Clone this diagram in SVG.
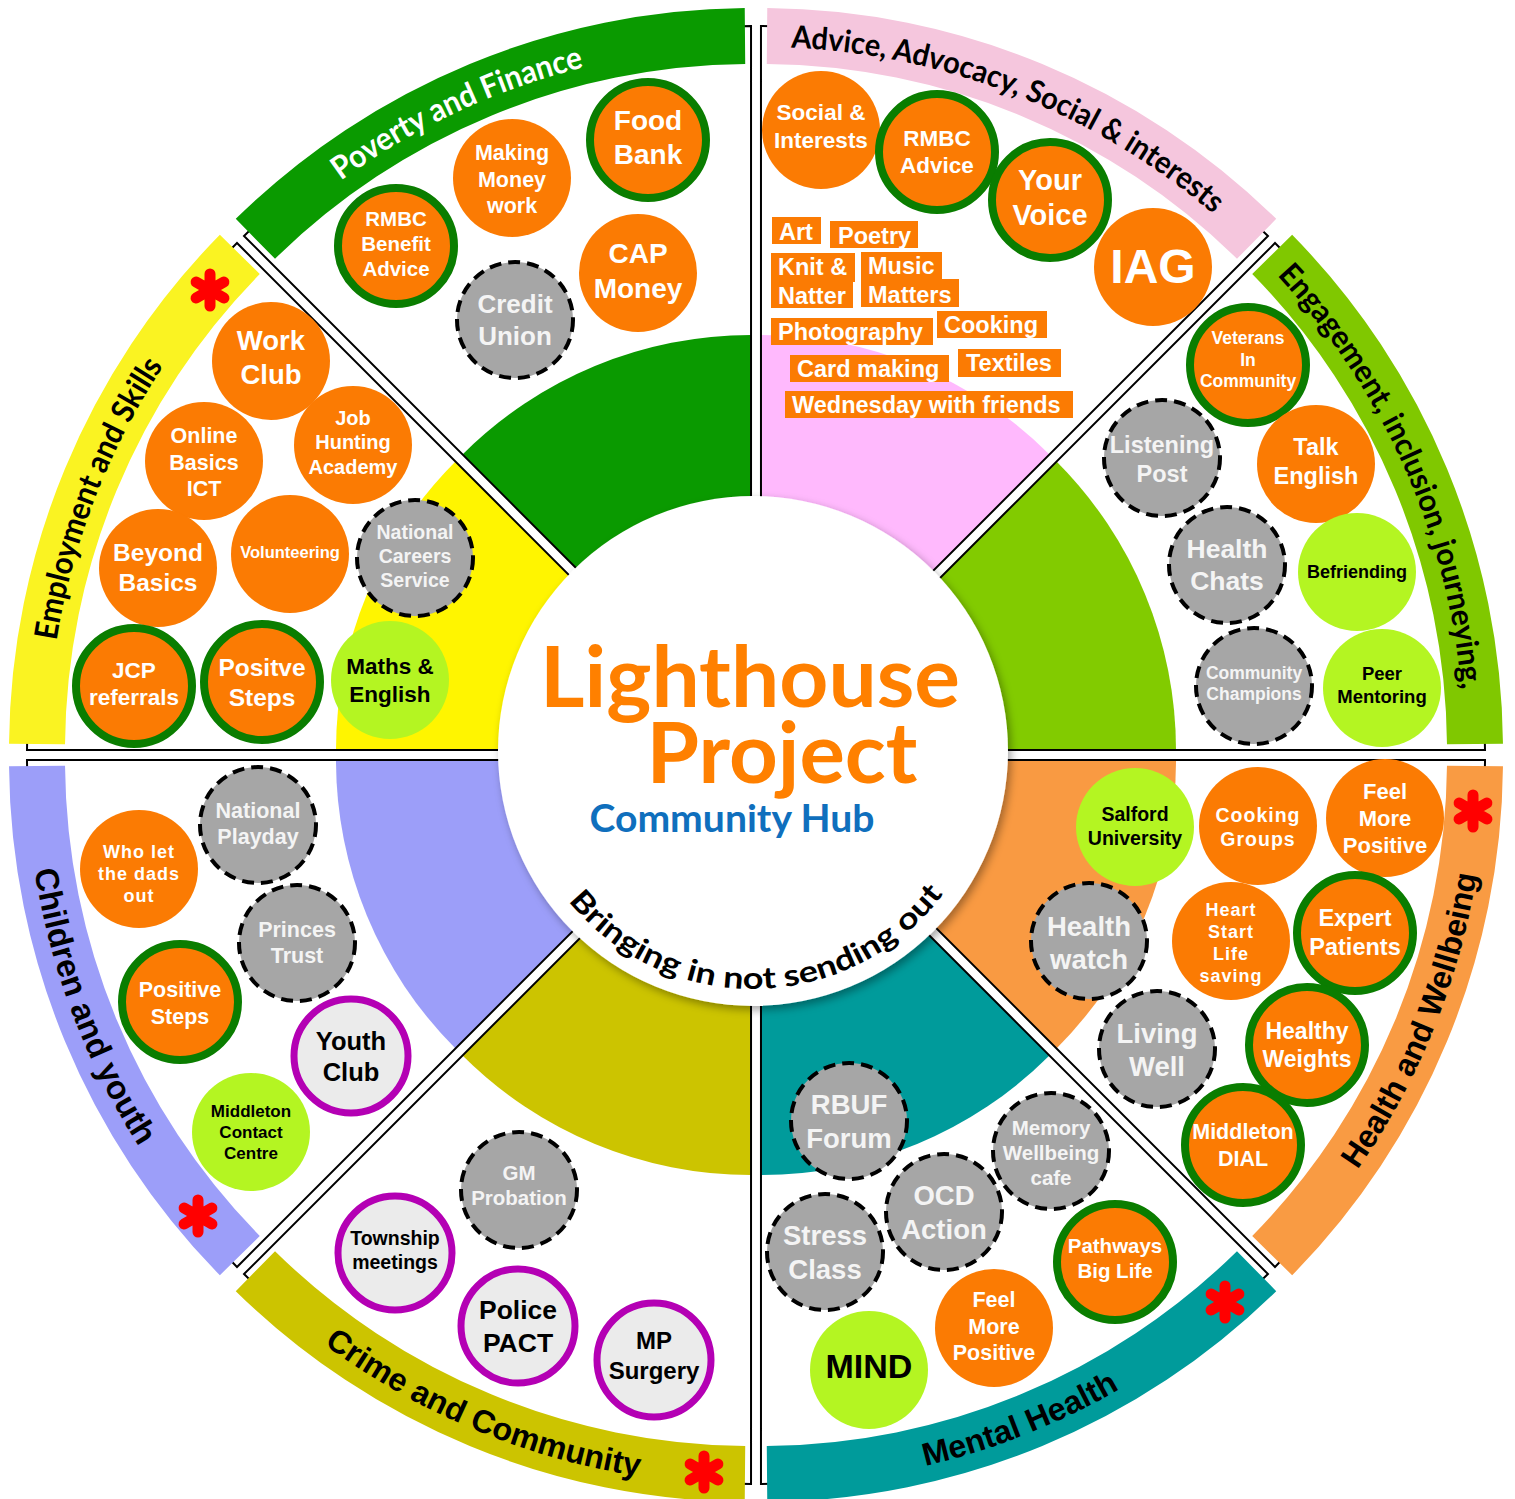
<svg xmlns="http://www.w3.org/2000/svg" xmlns:xlink="http://www.w3.org/1999/xlink" width="1515" height="1499" viewBox="0 0 1515 1499">
<style>
.pl{fill:none;stroke:#000;stroke-width:2}
.bo{fill:#fb7b03}
.br{fill:#fb7b03;stroke:#0a7d00;stroke-width:8}
.bg{fill:#a6a6a6;stroke:#000;stroke-width:4;stroke-dasharray:12 7}
.bl{fill:#b4f522}
.bp{fill:#ebebeb;stroke:#b400b4;stroke-width:7}
.t{font-family:"Liberation Sans",Arial,sans-serif;font-weight:700;text-anchor:middle}
.tw{fill:#fff}
.tg{fill:#f4f4f4}
.tk{fill:#000}
.lab{font-family:Lato,"Open Sans",sans-serif;font-weight:700;text-anchor:middle}
.laba{font-family:"Liberation Sans",Arial,sans-serif;font-weight:700;text-anchor:middle}
.tag{fill:#fb7b03}
.tt{font-family:"Liberation Sans",Arial,sans-serif;font-weight:700;font-size:23.5px;fill:#fff}
</style>
<defs>
<path id="inr" d="M0,0 L0,-408 A408,408 0 0,0 -288.5,-288.5 Z"/>
<path id="pie" d="M0,0 L0,-717 A717,717 0 0,0 -507,-507 Z"/>
<path id="bnd" d="M-6.29,-734.97 A735,735 0 0,0 -515.27,-524.14 L-476.01,-484.21 A679,679 0 0,1 -5.81,-678.97 Z"/>
<path id="tpP" d="M267.55,242.33 A696,696 0 0,1 738.88,47.09"/>
<path id="tpA" d="M773.12,47.09 A696,696 0 0,1 1244.45,242.33"/>
<path id="tpE" d="M1268.67,266.55 A696,696 0 0,1 1463.91,737.88"/>
<path id="tpH" d="M1284.50,1258.74 A718,718 0 0,0 1485.90,772.50"/>
<path id="tpM" d="M773.50,1484.90 A718,718 0 0,0 1259.74,1283.50"/>
<path id="tpCr" d="M252.26,1283.50 A718,718 0 0,0 738.50,1484.90"/>
<path id="tpCh" d="M26.10,772.50 A718,718 0 0,0 227.50,1258.74"/>
<path id="tpEm" d="M48.09,737.88 A696,696 0 0,1 243.33,266.55"/>
<path id="tpC" d="M518.62,792.33 A238,238 0 0,0 987.38,792.33"/>
<g id="ast"><path d="M0,-16V16M-13.9,-8L13.9,8M-13.9,8L13.9,-8" fill="none" stroke="#ff0000" stroke-width="11" stroke-linecap="round"/></g>
<filter id="sh" x="-10%" y="-10%" width="125%" height="125%"><feDropShadow dx="3" dy="4" stdDeviation="4" flood-color="#000" flood-opacity="0.35"/></filter>
</defs>
<rect width="1515" height="1499" fill="#fff"/>

<g id="sector-poverty">
<use href="#inr" transform="translate(751.03,742.99)" fill="#0a9a00"/>
<use href="#pie" class="pl" transform="translate(751.03,742.99)"/>
<use href="#bnd" transform="translate(751.03,742.99)" fill="#0a9a00"/>
<text class="lab" font-size="32" fill="#fff"><textPath href="#tpP" startOffset="230.8" textLength="270" lengthAdjust="spacingAndGlyphs">Poverty and Finance</textPath></text>
</g>
<g id="sector-advice">
<use href="#inr" transform="translate(760.97,742.99) scale(-1,1)" fill="#ffb9fd"/>
<use href="#pie" class="pl" transform="translate(760.97,742.99) scale(-1,1)"/>
<use href="#bnd" transform="translate(760.97,742.99) scale(-1,1)" fill="#f5c6dd"/>
<text class="lab" font-size="31" fill="#000"><textPath href="#tpA" startOffset="249" textLength="462" lengthAdjust="spacingAndGlyphs">Advice, Advocacy, Social &amp; interests</textPath></text>
</g>
<g id="sector-engagement">
<use href="#inr" transform="translate(768.01,750.03) rotate(90)" fill="#82cb00"/>
<use href="#pie" class="pl" transform="translate(768.01,750.03) rotate(90)"/>
<use href="#bnd" transform="translate(768.01,750.03) rotate(90)" fill="#80c800"/>
<text class="lab" font-size="31" fill="#000"><textPath href="#tpE" startOffset="243" textLength="462" lengthAdjust="spacingAndGlyphs">Engagement, inclusion, journeying,</textPath></text>
</g>
<g id="sector-health">
<use href="#inr" transform="translate(768.01,759.97) scale(1,-1) rotate(90)" fill="#f99a42"/>
<use href="#pie" class="pl" transform="translate(768.01,759.97) scale(1,-1) rotate(90)"/>
<use href="#bnd" transform="translate(768.01,759.97) scale(1,-1) rotate(90)" fill="#f99b43"/>
<text class="laba" font-size="32" fill="#000"><textPath href="#tpH" startOffset="275.7" textLength="321" lengthAdjust="spacingAndGlyphs">Health and Wellbeing</textPath></text>
</g>
<g id="sector-mental">
<use href="#inr" transform="translate(760.97,767.01) rotate(180)" fill="#009b9b"/>
<use href="#pie" class="pl" transform="translate(760.97,767.01) rotate(180)"/>
<use href="#bnd" transform="translate(760.97,767.01) rotate(180)" fill="#009b9b"/>
<text class="laba" font-size="32" fill="#000"><textPath href="#tpM" startOffset="258.1" textLength="210" lengthAdjust="spacingAndGlyphs">Mental Health</textPath></text>
</g>
<g id="sector-crime">
<use href="#inr" transform="translate(751.03,767.01) scale(-1,1) rotate(180)" fill="#ccc400"/>
<use href="#pie" class="pl" transform="translate(751.03,767.01) scale(-1,1) rotate(180)"/>
<use href="#bnd" transform="translate(751.03,767.01) scale(-1,1) rotate(180)" fill="#ccc400"/>
<text class="laba" font-size="32" fill="#000"><textPath href="#tpCr" startOffset="266.3" textLength="345" lengthAdjust="spacingAndGlyphs">Crime and Community</textPath></text>
</g>
<g id="sector-children">
<use href="#inr" transform="translate(743.99,759.97) rotate(-90)" fill="#9c9ef9"/>
<use href="#pie" class="pl" transform="translate(743.99,759.97) rotate(-90)"/>
<use href="#bnd" transform="translate(743.99,759.97) rotate(-90)" fill="#9c9ef9"/>
<text class="laba" font-size="33" fill="#000"><textPath href="#tpCh" startOffset="246.9" textLength="298" lengthAdjust="spacingAndGlyphs">Children and youth</textPath></text>
</g>
<g id="sector-employment">
<use href="#inr" transform="translate(743.99,750.03) scale(1,-1) rotate(-90)" fill="#fff500"/>
<use href="#pie" class="pl" transform="translate(743.99,750.03) scale(1,-1) rotate(-90)"/>
<use href="#bnd" transform="translate(743.99,750.03) scale(1,-1) rotate(-90)" fill="#faf322"/>
<text class="lab" font-size="32" fill="#000"><textPath href="#tpEm" startOffset="246" textLength="297" lengthAdjust="spacingAndGlyphs">Employment and Skills</textPath></text>
</g>

<g id="asterisks">
<use href="#ast" x="210" y="290"/>
<use href="#ast" x="198" y="1216"/>
<use href="#ast" x="704" y="1472"/>
<use href="#ast" x="1225" y="1302"/>
<use href="#ast" x="1473" y="811"/>
</g>

<g id="hub">
<circle cx="753" cy="751" r="255" fill="#fff" filter="url(#sh)"/>
<text class="lab" font-size="84" fill="#ff8000" x="750" y="707" textLength="420" lengthAdjust="spacingAndGlyphs">Lighthouse</text>
<text class="lab" font-size="84" fill="#ff8000" x="782" y="783" textLength="271" lengthAdjust="spacingAndGlyphs">Project</text>
<text class="lab" font-size="38" fill="#0f6fbd" x="732" y="832" textLength="285" lengthAdjust="spacingAndGlyphs">Community Hub</text>
<text class="lab" font-size="30" fill="#000"><textPath href="#tpC" startOffset="336.5" textLength="432" lengthAdjust="spacingAndGlyphs">Bringing in not sending out</textPath></text>
</g>

<!-- Poverty and Finance -->
<g id="n-food-bank"><circle class="br" cx="648" cy="140" r="58"/><text class="t tw" font-size="28"><tspan x="648" y="129.6">Food</tspan><tspan x="648" y="164.1">Bank</tspan></text></g>
<g id="n-making-money"><circle class="bo" cx="512" cy="178" r="59"/><text class="t tw" font-size="21.5"><tspan x="512" y="160">Making</tspan><tspan x="512" y="186.5">Money</tspan><tspan x="512" y="213">work</tspan></text></g>
<g id="n-rmbc-benefit"><circle class="br" cx="396" cy="246" r="58"/><text class="t tw" font-size="20.5"><tspan x="396" y="226.2">RMBC</tspan><tspan x="396" y="251.2">Benefit</tspan><tspan x="396" y="276.2">Advice</tspan></text></g>
<g id="n-cap-money"><circle class="bo" cx="638" cy="273" r="59"/><text class="t tw" font-size="28"><tspan x="638" y="263">CAP</tspan><tspan x="638" y="297.5">Money</tspan></text></g>
<g id="n-credit-union"><circle class="bg" cx="515" cy="320" r="58"/><text class="t tg" font-size="26"><tspan x="515" y="313.1">Credit</tspan><tspan x="515" y="345.1">Union</tspan></text></g>

<!-- Advice -->
<g id="n-social"><circle class="bo" cx="821" cy="130" r="59"/><text class="t tw" font-size="22.5"><tspan x="821" y="120.1">Social &amp;</tspan><tspan x="821" y="147.6">Interests</tspan></text></g>
<g id="n-rmbc-advice"><circle class="br" cx="937" cy="152" r="58"/><text class="t tw" font-size="22.5"><tspan x="937" y="145.6">RMBC</tspan><tspan x="937" y="173.1">Advice</tspan></text></g>
<g id="n-your-voice"><circle class="br" cx="1050" cy="200" r="58"/><text class="t tw" font-size="29"><tspan x="1050" y="189.9">Your</tspan><tspan x="1050" y="225.4">Voice</tspan></text></g>
<g id="n-iag"><circle class="bo" cx="1153" cy="267" r="59"/><text class="t tw" font-size="48"><tspan x="1153" y="283">IAG</tspan></text></g>
<g id="tags">
<g id="tag-art"><rect class="tag" x="772" y="217" width="49" height="27"/><text class="tt" x="779" y="240">Art</text></g>
<g id="tag-poetry"><rect class="tag" x="830" y="221" width="88" height="27"/><text class="tt" x="838" y="244">Poetry</text></g>
<g id="tag-knit"><rect class="tag" x="771" y="253" width="84" height="29"/><rect class="tag" x="771" y="281" width="82" height="27"/><text class="tt" x="778" y="274.5">Knit &amp;</text><text class="tt" x="778" y="303.5">Natter</text></g>
<g id="tag-music"><rect class="tag" x="861" y="252" width="81" height="29"/><rect class="tag" x="861" y="279" width="98" height="28"/><text class="tt" x="868" y="273.5">Music</text><text class="tt" x="868" y="302.5">Matters</text></g>
<g id="tag-photography"><rect class="tag" x="771" y="318" width="162" height="27"/><text class="tt" x="778" y="340">Photography</text></g>
<g id="tag-cooking"><rect class="tag" x="937" y="311" width="110" height="27"/><text class="tt" x="944" y="333">Cooking</text></g>
<g id="tag-card"><rect class="tag" x="790" y="355" width="159" height="27"/><text class="tt" x="797" y="377">Card making</text></g>
<g id="tag-textiles"><rect class="tag" x="958" y="349" width="103" height="28"/><text class="tt" x="966" y="371">Textiles</text></g>
<g id="tag-wednesday"><rect class="tag" x="785" y="391" width="288" height="27"/><text class="tt" x="792" y="413">Wednesday with friends</text></g>
</g>

<!-- Engagement -->
<g id="n-veterans"><circle class="br" cx="1248" cy="365" r="58"/><text class="t tw" font-size="17.5"><tspan x="1248" y="344.1">Veterans</tspan><tspan x="1248" y="365.6">In</tspan><tspan x="1248" y="387.1">Community</tspan></text></g>
<g id="n-listening"><circle class="bg" cx="1162" cy="458" r="58"/><text class="t tg" font-size="23.5"><tspan x="1162" y="453.4">Listening</tspan><tspan x="1162" y="482.1">Post</tspan></text></g>
<g id="n-talk-english"><circle class="bo" cx="1316" cy="464" r="59"/><text class="t tw" font-size="23.5"><tspan x="1316" y="454.9">Talk</tspan><tspan x="1316" y="483.6">English</tspan></text></g>
<g id="n-health-chats"><circle class="bg" cx="1227" cy="565" r="58"/><text class="t tg" font-size="26.5"><tspan x="1227" y="557.5">Health</tspan><tspan x="1227" y="590">Chats</tspan></text></g>
<g id="n-befriending"><circle class="bl" cx="1357" cy="572" r="59"/><text class="t tk" font-size="18"><tspan x="1357" y="578">Befriending</tspan></text></g>
<g id="n-community-champions"><circle class="bg" cx="1254" cy="686" r="58"/><text class="t tg" font-size="17.5"><tspan x="1254" y="678.9">Community</tspan><tspan x="1254" y="700.4">Champions</tspan></text></g>
<g id="n-peer-mentoring"><circle class="bl" cx="1382" cy="688" r="59"/><text class="t tk" font-size="18.5"><tspan x="1382" y="680.2">Peer</tspan><tspan x="1382" y="702.8">Mentoring</tspan></text></g>

<!-- Health and Wellbeing -->
<g id="n-salford"><circle class="bl" cx="1135" cy="827" r="59"/><text class="t tk" font-size="19.5"><tspan x="1135" y="820.8">Salford</tspan><tspan x="1135" y="844.8">University</tspan></text></g>
<g id="n-cooking-groups"><circle class="bo" cx="1258" cy="826" r="59"/><text class="t tw" font-size="19.5" letter-spacing="1"><tspan x="1258" y="821.8">Cooking</tspan><tspan x="1258" y="845.8">Groups</tspan></text></g>
<g id="n-feel-more-1"><circle class="bo" cx="1385" cy="818" r="59"/><text class="t tw" font-size="22"><tspan x="1385" y="799.2">Feel</tspan><tspan x="1385" y="826.2">More</tspan><tspan x="1385" y="853.2">Positive</tspan></text></g>
<g id="n-health-watch"><circle class="bg" cx="1089" cy="941" r="58"/><text class="t tg" font-size="27.5"><tspan x="1089" y="935.9">Health</tspan><tspan x="1089" y="969.4">watch</tspan></text></g>
<g id="n-heart-start"><circle class="bo" cx="1231" cy="941" r="59"/><text class="t tw" font-size="18" letter-spacing="1"><tspan x="1231" y="915.8">Heart</tspan><tspan x="1231" y="937.8">Start</tspan><tspan x="1231" y="959.8">Life</tspan><tspan x="1231" y="981.8">saving</tspan></text></g>
<g id="n-expert-patients"><circle class="br" cx="1355" cy="933" r="58"/><text class="t tw" font-size="23.5"><tspan x="1355" y="926.4">Expert</tspan><tspan x="1355" y="955.1">Patients</tspan></text></g>
<g id="n-living-well"><circle class="bg" cx="1157" cy="1049" r="58"/><text class="t tg" font-size="27.5"><tspan x="1157" y="1042.9">Living</tspan><tspan x="1157" y="1076.4">Well</tspan></text></g>
<g id="n-healthy-weights"><circle class="br" cx="1307" cy="1045" r="58"/><text class="t tw" font-size="23"><tspan x="1307" y="1038.6">Healthy</tspan><tspan x="1307" y="1066.6">Weights</tspan></text></g>
<g id="n-middleton-dial"><circle class="br" cx="1243" cy="1145" r="58"/><text class="t tw" font-size="21.5"><tspan x="1243" y="1139.3">Middleton</tspan><tspan x="1243" y="1165.8">DIAL</tspan></text></g>

<!-- Mental Health -->
<g id="n-rbuf"><circle class="bg" cx="849" cy="1121" r="58"/><text class="t tg" font-size="27.5"><tspan x="849" y="1114.4">RBUF</tspan><tspan x="849" y="1147.9">Forum</tspan></text></g>
<g id="n-memory"><circle class="bg" cx="1051" cy="1151" r="58"/><text class="t tg" font-size="20.5"><tspan x="1051" y="1135.2">Memory</tspan><tspan x="1051" y="1160.2">Wellbeing</tspan><tspan x="1051" y="1185.2">cafe</tspan></text></g>
<g id="n-ocd"><circle class="bg" cx="944" cy="1212" r="58"/><text class="t tg" font-size="27.5"><tspan x="944" y="1205.4">OCD</tspan><tspan x="944" y="1238.9">Action</tspan></text></g>
<g id="n-stress"><circle class="bg" cx="825" cy="1252" r="58"/><text class="t tg" font-size="27.5"><tspan x="825" y="1245.4">Stress</tspan><tspan x="825" y="1278.9">Class</tspan></text></g>
<g id="n-pathways"><circle class="br" cx="1115" cy="1262" r="58"/><text class="t tw" font-size="20.5"><tspan x="1115" y="1253.2">Pathways</tspan><tspan x="1115" y="1278.2">Big Life</tspan></text></g>
<g id="n-feel-more-2"><circle class="bo" cx="994" cy="1328" r="59"/><text class="t tw" font-size="21.5"><tspan x="994" y="1307">Feel</tspan><tspan x="994" y="1333.5">More</tspan><tspan x="994" y="1360">Positive</tspan></text></g>
<g id="n-mind"><circle class="bl" cx="869" cy="1370" r="59"/><text class="t tk" font-size="34"><tspan x="869" y="1378">MIND</tspan></text></g>

<!-- Crime and Community -->
<g id="n-gm-probation"><circle class="bg" cx="519" cy="1190" r="58"/><text class="t tg" font-size="20.5"><tspan x="519" y="1180.2">GM</tspan><tspan x="519" y="1205.2">Probation</tspan></text></g>
<g id="n-township"><circle class="bp" cx="395" cy="1253" r="57"/><text class="t tk" font-size="19.5"><tspan x="395" y="1244.8">Township</tspan><tspan x="395" y="1268.8">meetings</tspan></text></g>
<g id="n-police-pact"><circle class="bp" cx="518" cy="1326" r="57"/><text class="t tk" font-size="26.5"><tspan x="518" y="1319">Police</tspan><tspan x="518" y="1351.5">PACT</tspan></text></g>
<g id="n-mp-surgery"><circle class="bp" cx="654" cy="1360" r="57"/><text class="t tk" font-size="24"><tspan x="654" y="1349.2">MP</tspan><tspan x="654" y="1378.7">Surgery</tspan></text></g>

<!-- Children and youth -->
<g id="n-national-playday"><circle class="bg" cx="258" cy="825" r="58"/><text class="t tg" font-size="21.5"><tspan x="258" y="817.8">National</tspan><tspan x="258" y="844.3">Playday</tspan></text></g>
<g id="n-who-let"><circle class="bo" cx="139" cy="869" r="59"/><text class="t tw" font-size="18" letter-spacing="1"><tspan x="139" y="857.6">Who let</tspan><tspan x="139" y="879.6">the dads</tspan><tspan x="139" y="901.6">out</tspan></text></g>
<g id="n-princes-trust"><circle class="bg" cx="297" cy="943" r="58"/><text class="t tg" font-size="21.5"><tspan x="297" y="936.8">Princes</tspan><tspan x="297" y="963.3">Trust</tspan></text></g>
<g id="n-positive-steps-cy"><circle class="br" cx="180" cy="1002" r="58"/><text class="t tw" font-size="21.5"><tspan x="180" y="997.3">Positive</tspan><tspan x="180" y="1023.8">Steps</tspan></text></g>
<g id="n-youth-club"><circle class="bp" cx="351" cy="1056" r="57"/><text class="t tk" font-size="25.5"><tspan x="351" y="1049.9">Youth</tspan><tspan x="351" y="1080.9">Club</tspan></text></g>
<g id="n-middleton-contact"><circle class="bl" cx="251" cy="1132" r="59"/><text class="t tk" font-size="17"><tspan x="251" y="1117">Middleton</tspan><tspan x="251" y="1138">Contact</tspan><tspan x="251" y="1159">Centre</tspan></text></g>

<!-- Employment and Skills -->
<g id="n-work-club"><circle class="bo" cx="271" cy="361" r="59"/><text class="t tw" font-size="27.5"><tspan x="271" y="350.4">Work</tspan><tspan x="271" y="383.9">Club</tspan></text></g>
<g id="n-online-basics"><circle class="bo" cx="204" cy="461" r="59"/><text class="t tw" font-size="21.5"><tspan x="204" y="443.3">Online</tspan><tspan x="204" y="469.8">Basics</tspan><tspan x="204" y="496.3">ICT</tspan></text></g>
<g id="n-job-hunting"><circle class="bo" cx="353" cy="445" r="59"/><text class="t tw" font-size="20"><tspan x="353" y="424.5">Job</tspan><tspan x="353" y="449">Hunting</tspan><tspan x="353" y="473.5">Academy</tspan></text></g>
<g id="n-beyond-basics"><circle class="bo" cx="158" cy="568" r="59"/><text class="t tw" font-size="24.5"><tspan x="158" y="560.6">Beyond</tspan><tspan x="158" y="590.6">Basics</tspan></text></g>
<g id="n-volunteering"><circle class="bo" cx="290" cy="554" r="59"/><text class="t tw" font-size="16.5"><tspan x="290" y="558">Volunteering</tspan></text></g>
<g id="n-ncs"><circle class="bg" cx="415" cy="558" r="58"/><text class="t tg" font-size="19.5"><tspan x="415" y="539.3">National</tspan><tspan x="415" y="563.3">Careers</tspan><tspan x="415" y="587.3">Service</tspan></text></g>
<g id="n-jcp"><circle class="br" cx="134" cy="686" r="58"/><text class="t tw" font-size="22.5"><tspan x="134" y="677.6">JCP</tspan><tspan x="134" y="705.1">referrals</tspan></text></g>
<g id="n-positve-steps-es"><circle class="br" cx="262" cy="682" r="58"/><text class="t tw" font-size="24.5"><tspan x="262" y="676.1">Positve</tspan><tspan x="262" y="706.1">Steps</tspan></text></g>
<g id="n-maths-english"><circle class="bl" cx="390" cy="680" r="59"/><text class="t tk" font-size="22.5"><tspan x="390" y="674.1">Maths &amp;</tspan><tspan x="390" y="701.6">English</tspan></text></g>
</svg>
